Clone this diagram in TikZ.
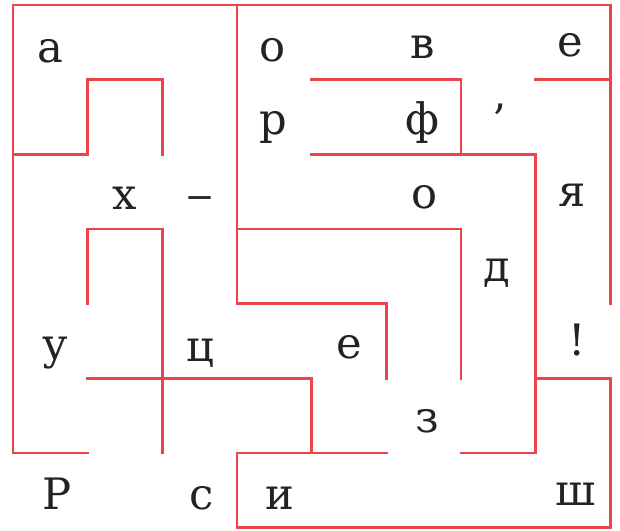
\documentclass[tikz,border=0pt]{standalone}
\usepackage{fontspec}
\setmainfont{DejaVu Serif}
\definecolor{mazered}{RGB}{232,70,74}
\definecolor{ink}{RGB}{35,35,35}
\tikzset{
  wall/.style={draw=mazered, line width=1pt, line cap=rect, line join=miter},
  letter/.style={anchor=base, inner sep=0pt, text=ink, font=\fontsize{16.5}{16.5}\selectfont},
  punct/.style={anchor=center, inner sep=0pt, text=ink, font=\fontsize{16.5}{16.5}\selectfont}
}
\begin{document}
\begin{tikzpicture}[x=1cm, y=-1cm]
\useasboundingbox (-0.174,-0.067) rectangle (8.131,7.041);
% outer walls
\draw[wall] (0,6) -- (1,6);
\draw[wall] (0,6) -- (0,0) -- (8,0) -- (8,4);
\draw[wall] (7,5) -- (8,5) -- (8,7) -- (3,7) -- (3,6) -- (5,6);
% inner walls
\draw[wall] (0,2) -- (1,2) -- (1,1) -- (2,1) -- (2,2);
\draw[wall] (1,4) -- (1,3) -- (2,3) -- (2,6);
\draw[wall] (1,5) -- (4,5) -- (4,6);
\draw[wall] (3,0) -- (3,4) -- (5,4) -- (5,5);
\draw[wall] (3,3) -- (6,3) -- (6,5);
\draw[wall] (4,1) -- (6,1) -- (6,2);
\draw[wall] (4,2) -- (7,2) -- (7,6) -- (6,6);
\draw[wall] (7,1) -- (8,1);
% letters
\node[letter] (a1) at (0.50,0.776) {а};
\node[letter] (o1) at (3.47,0.763) {о};
\node[letter] (v1) at (5.49,0.723) {в};
\node[letter] (e1) at (7.46,0.696) {е};
\node[letter] (r1) at (3.49,1.74) {р};
\node[letter] (f1) at (5.48,1.74) {ф};
\node[punct] (ap) at (6.52,1.54) {’};
\node[letter] (h1) at (1.50,2.74) {х};
\node[letter, xscale=1.25] (da) at (2.505,2.74) {–};
\node[letter] (o2) at (5.51,2.72) {о};
\node[letter] (ya) at (7.49,2.70) {я};
\node[letter] (d1) at (6.48,3.71) {д};
\node[letter] (u1) at (0.56,4.75) {у};
\node[letter] (c1) at (2.505,4.77) {ц};
\node[letter] (e2) at (4.51,4.73) {е};
\node[letter] (ex) at (7.56,4.69) {!};
\node[letter] (z1) at (5.55,5.72) {з};
\node[letter] (R1) at (0.59,6.76) {Р};
\node[letter] (s1) at (2.53,6.76) {с};
\node[letter] (i1) at (3.58,6.76) {и};
\node[letter] (sh) at (7.54,6.71) {ш};
\end{tikzpicture}
\end{document}
